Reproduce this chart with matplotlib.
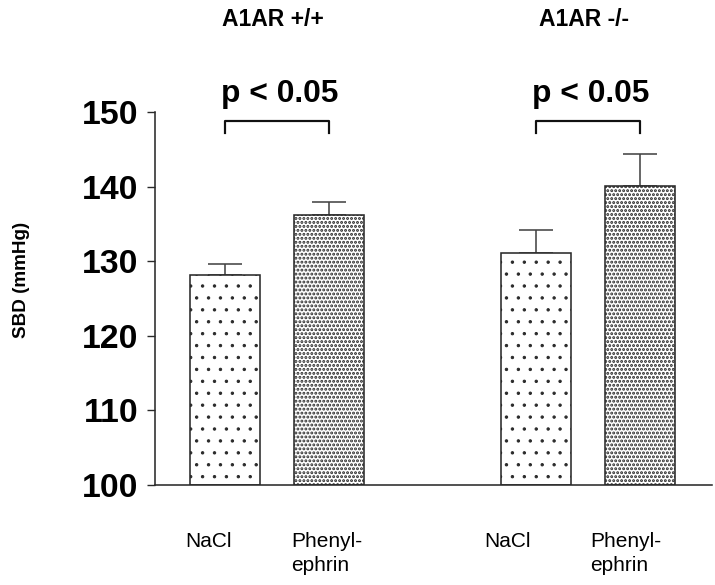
import matplotlib
matplotlib.use('Agg')
import matplotlib.pyplot as plt
import matplotlib.transforms as mtransforms

# data
groups = ["A1AR +/+", "A1AR -/-"]
treatments = ["NaCl", "Phenyl-\nephrin", "NaCl", "Phenyl-\nephrin"]
sbd_mean = [128.2, 136.2, 131.1, 140.1]
sbd_sem = [1.45, 1.75, 3.1, 4.3]
p_labels = ["p < 0.05", "p < 0.05"]
y_ticks = [100, 110, 120, 130, 140, 150]

# layout
x_pos = [1, 2, 4, 5]
hatches = ['..', '......', '..', '......']
hatch_lw = [0.5, 1.0, 0.5, 1.0]
label_dx = [-0.16, -0.02, -0.28, -0.14]
font = 'Liberation Sans'
line_col = '#2a2a2a'

plt.rcParams['font.family'] = [font, 'DejaVu Sans']
plt.rcParams['hatch.linewidth'] = 0.6

DPI = 143
fig = plt.figure(figsize=(715 / DPI, 585 / DPI), dpi=DPI)
ax = fig.add_axes([155 / 715, 1 - 485 / 585, (712 - 155) / 715, (485 - 112) / 585])

bars = ax.bar(x_pos, [m - 100 for m in sbd_mean], bottom=100, width=0.67,
              color='white', edgecolor=line_col, linewidth=0.8, hatch=hatches, zorder=2)
for b, lw in zip(bars, hatch_lw):
    if hasattr(b, 'set_hatch_linewidth'):
        b.set_hatch_linewidth(lw)
ax.errorbar(x_pos, sbd_mean, yerr=[[0] * 4, sbd_sem], fmt='none',
            ecolor='#444444', elinewidth=0.8, capsize=8.5, capthick=0.8, zorder=1)

ax.set_xlim(0.324, 5.696)
ax.set_ylim(100, 150)
ax.set_xticks([])
ax.set_yticks(y_ticks)
ax.tick_params(axis='y', length=4, width=0.7, pad=4.5, colors=line_col,
               labelcolor='black', labelsize=17)
for lbl in ax.get_yticklabels():
    lbl.set_fontweight('bold')
for s in ['top', 'right']:
    ax.spines[s].set_visible(False)
for s in ['left', 'bottom']:
    ax.spines[s].set_linewidth(0.8)
    ax.spines[s].set_color(line_col)

# significance brackets and p-values
for i, (a, b) in enumerate([(0, 1), (2, 3)]):
    xa, xb = x_pos[a], x_pos[b]
    ax.plot([xa, xa, xb, xb], [147.2, 148.8, 148.8, 147.2], color='#111111',
            linewidth=1.1, clip_on=False, zorder=3)
    ax.text((xa + xb) / 2 + 0.03, 151.3, p_labels[i], ha='center', va='baseline',
            fontsize=16, fontweight='bold', clip_on=False)

# group titles
trans = mtransforms.blended_transform_factory(ax.transData, fig.transFigure)
for i, g in enumerate(groups):
    xc = (x_pos[2 * i] + x_pos[2 * i + 1]) / 2
    ax.text(xc - 0.04, 1 - 20 / 585, g, transform=trans, ha='center', va='center',
            fontsize=11.5, fontweight='bold')

# category labels under the bars
for x, t, dx in zip(x_pos, treatments, label_dx):
    ax.text(x + dx, -0.125, t, transform=ax.get_xaxis_transform(), ha='center',
            va='top', multialignment='left', fontsize=10.5, linespacing=1.35)

fig.text(22 / 715, 1 - 280 / 585, "SBD (mmHg)", rotation=90, ha='center',
         va='center', fontsize=9.5, fontweight='bold')

fig.savefig('out.png', dpi=DPI)
